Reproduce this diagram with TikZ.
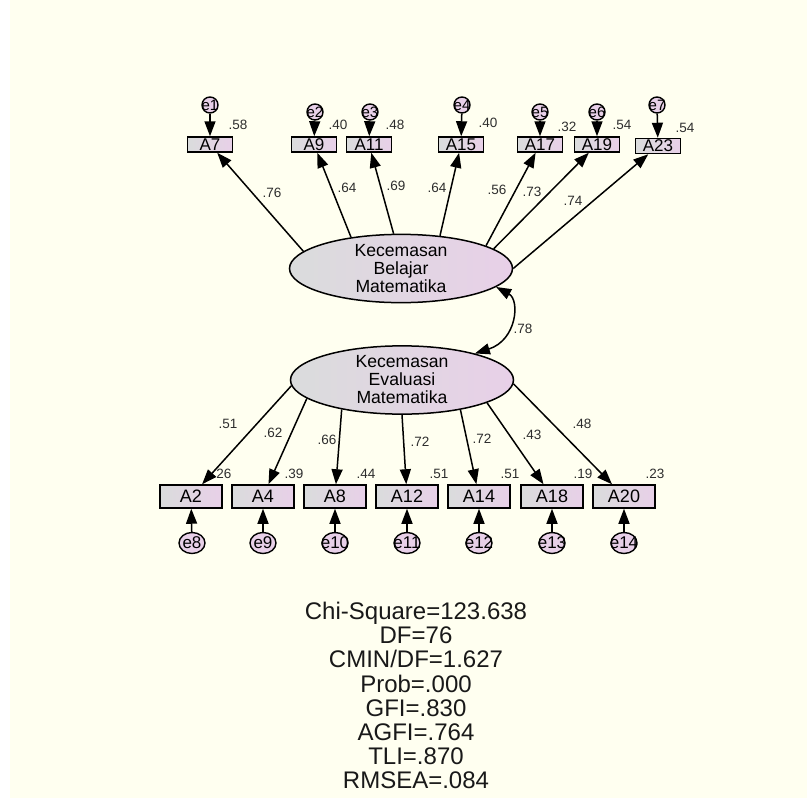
\documentclass[tikz,border=0pt]{standalone}
\usepackage{fontspec}
\setmainfont{Liberation Sans}
\usetikzlibrary{arrows.meta, shapes.geometric}
\definecolor{amosCream}{RGB}{255,255,240}
\definecolor{amosGray}{RGB}{218,220,220}
\definecolor{amosPink}{RGB}{232,208,232}
\definecolor{amosText}{RGB}{45,45,45}

\begin{document}
\begin{tikzpicture}[x=1pt, y=-1pt,
  obs/.style={draw, line width=1.5pt, left color=amosGray, right color=amosPink, inner sep=0pt},
  lat/.style={ellipse, draw, line width=1.5pt, left color=amosGray, right color=amosPink,
    minimum width=223pt, minimum height=63pt, inner sep=0pt, align=center,
    font=\fontsize{17.6}{18}\selectfont},
  err/.style={draw, line width=1.4pt, fill=amosPink, inner sep=0pt},
  load/.style={-{Triangle[length=15pt,width=11pt]}, line width=1.5pt},
  val/.style={font=\fontsize{13.5}{13.5}\selectfont, text=amosText, inner sep=0pt}]
  \useasboundingbox (0,0) rectangle (807,798);
  \fill[white] (0,0) rectangle (807,798);
  \fill[amosCream] (10,0) rectangle (807,798);

  \node[lat] (ku) at (401,268.5) {Kecemasan\\Belajar\\Matematika};
  \node[lat] (kl) at (402,380) {Kecemasan\\Evaluasi\\Matematika};

  \foreach \n/\x/\y/\r/\rx/\ry in {7/210/144.5/.58/238/125, 9/314/144.5/.40/338/125,
      11/369/144.5/.48/395/125, 15/461/144.5/.40/488/123, 17/540/144.5/.32/567/127,
      19/597/144.5/.54/622/125, 23/658/146/.54/685/128} {
    \node[obs, minimum width=45pt, minimum height=15pt, font=\fontsize{17}{17}\selectfont] (a\n) at (\x,\y) {A\n};
    \node[val] (r\n) at (\rx,\ry) {\r};
  }
  \foreach \n/\x/\r/\rx in {2/191/.26/222, 4/263/.39/294, 8/335/.44/366, 12/407/.51/439,
      14/479/.51/510, 18/552/.19/583, 20/624/.23/655} {
    \node[obs, minimum width=62pt, minimum height=23pt, font=\fontsize{18}{18}\selectfont] (a\n) at (\x,496.5) {A\n};
    \node[val] (r\n) at (\rx,474) {\r};
  }

  \foreach \n/\ang/\lv/\lx/\ly in {7/170/.76/272/193, 9/148/.64/347/188, 11/102/.69/396/186,
      15/40/.64/437/188, 17/15/.56/497/190, 19/12/.73/532/192, 23/0/.74/573/201} {
    \draw[load] (ku.\ang) -- (a\n);
    \node[val] (l\n) at (\lx,\ly) {\lv};
  }
  \foreach \n/\ang/\lv/\lx/\ly in {2/183/.51/228/424, 4/191/.62/273/433, 8/206/.66/327/440,
      12/270/.72/420/442, 14/333/.72/482/439, 18/345/.43/532/435, 20/358/.48/582/424} {
    \draw[load] (kl.\ang) -- (a\n);
    \node[val] (l\n) at (\lx,\ly) {\lv};
  }

  \foreach \e/\n/\x/\y in {1/7/210/105, 2/9/315/112, 3/11/370/112, 4/15/462/105,
      5/17/540/112, 6/19/597/112, 7/23/657/105} {
    \node[err, circle, minimum size=16pt, font=\fontsize{15}{15}\selectfont] (e\e) at (\x,\y) {\makebox[0pt]{e\e}};
    \draw[load] (e\e) -- (a\n);
  }
  \foreach \e/\n/\x in {8/2/192, 9/4/263, 10/8/335, 11/12/407, 12/14/479, 13/18/552, 14/20/624} {
    \node[err, ellipse, minimum width=26pt, minimum height=21pt, font=\fontsize{17}{17}\selectfont] (e\e) at (\x,543) {\makebox[0pt]{e\e}};
    \draw[load] (e\e) -- (a\n);
  }

  \draw[{Triangle[length=15pt,width=11pt]}-{Triangle[length=15pt,width=11pt]}, line width=1.5pt]
    (kl.20) .. controls (517,340) and (520,300) .. (ku.-11);
  \node[val] (cov) at (523,329) {.78};

  \node[font=\fontsize{24}{24.1}\selectfont, align=center, text=black!90] (fit) at (416,695.5)
    {Chi-Square=123.638\\DF=76\\CMIN/DF=1.627\\Prob=.000\\GFI=.830\\AGFI=.764\\TLI=.870\\RMSEA=.084};
\end{tikzpicture}
\end{document}
